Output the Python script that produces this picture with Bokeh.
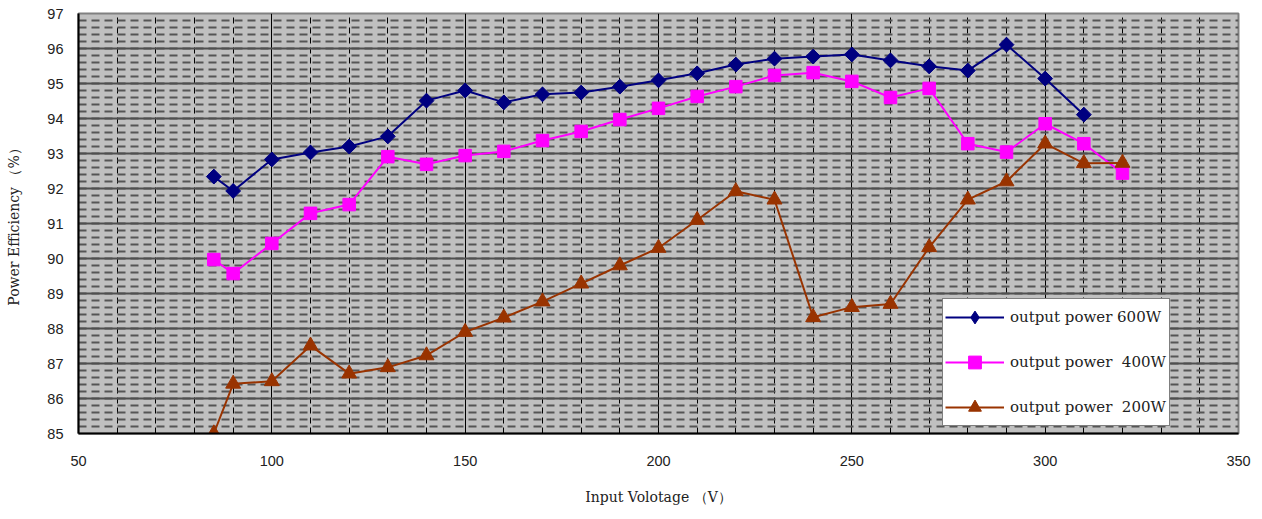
from bokeh.plotting import figure
from bokeh.models import SingleIntervalTicker, Legend, LegendItem, Range1d
from bokeh.embed import file_html
from bokeh.resources import INLINE
import math

# ---- data ----
voltage_600 = [85, 90, 100, 110, 120, 130, 140, 150, 160, 170, 180, 190, 200,
               210, 220, 230, 240, 250, 260, 270, 280, 290, 300, 310]
eff_600 = [92.34, 91.93, 92.83, 93.03, 93.20, 93.49, 94.51, 94.80, 94.46, 94.69,
           94.74, 94.91, 95.09, 95.29, 95.54, 95.71, 95.77, 95.83, 95.66, 95.49,
           95.37, 96.11, 95.14, 94.11]

voltage_400 = [85, 90, 100, 110, 120, 130, 140, 150, 160, 170, 180, 190, 200,
               210, 220, 230, 240, 250, 260, 270, 280, 290, 300, 310, 320]
eff_400 = [89.97, 89.57, 90.43, 91.29, 91.54, 92.91, 92.69, 92.94, 93.06, 93.37,
           93.63, 93.97, 94.29, 94.63, 94.91, 95.23, 95.31, 95.06, 94.60, 94.86,
           93.28, 93.04, 93.85, 93.28, 92.44]

voltage_200 = [85, 90, 100, 110, 120, 130, 140, 150, 160, 170, 180, 190, 200,
               210, 220, 230, 240, 250, 260, 270, 280, 290, 300, 310, 320]
eff_200 = [85.00, 86.42, 86.49, 87.51, 86.71, 86.89, 87.23, 87.90, 88.31, 88.77,
           89.28, 89.80, 90.30, 91.10, 91.92, 91.68, 88.32, 88.61, 88.70, 90.32,
           91.68, 92.20, 93.28, 92.72, 92.73]

labels = ["output power 600W", "output power  400W", "output power  200W"]
colors = ["#000080", "#FF00FF", "#993300"]

x_label = "Input Volotage （V）"
y_label = "Power Efficiency （%）"

p = figure(width=1254, height=511, output_backend="svg", toolbar_location=None,
           x_range=Range1d(50, 350), y_range=Range1d(85, 97),
           min_border_left=78, min_border_right=16, min_border_top=13,
           min_border_bottom=78)

p.background_fill_color = "#C0C0C0"
p.border_fill_color = "white"
p.outline_line_color = "#808080"
p.outline_line_width = 2

# axes
p.xaxis.ticker = SingleIntervalTicker(interval=50, num_minor_ticks=5)
p.yaxis.ticker = SingleIntervalTicker(interval=1, num_minor_ticks=5)
for ax in (p.xaxis[0], p.yaxis[0]):
    ax.major_tick_out = 0
    ax.major_tick_in = 0
    ax.minor_tick_out = 0
    ax.minor_tick_in = 0
    ax.axis_line_color = "black"
    ax.axis_line_width = 2
    ax.major_label_text_font = "Liberation Sans"
    ax.major_label_text_font_size = "14.5px"
    ax.major_label_text_color = "#222222"
    ax.axis_label_text_font = "DejaVu Serif"
    ax.axis_label_text_font_size = "14px"
    ax.axis_label_text_font_style = "normal"
    ax.axis_label_text_color = "#222222"

p.xaxis.axis_label = x_label
p.yaxis.axis_label = y_label
p.xaxis.major_label_standoff = 22
p.xaxis.axis_label_standoff = 20
p.yaxis.major_label_standoff = 15
p.yaxis.axis_label_standoff = 22

# grid
p.xgrid.grid_line_color = "black"
p.xgrid.grid_line_width = 1
p.xgrid.minor_grid_line_color = "black"
p.xgrid.minor_grid_line_width = 1
p.xgrid.minor_grid_line_dash = "6 4"

p.ygrid.grid_line_color = "#505050"
p.ygrid.grid_line_width = 2
p.ygrid.minor_grid_line_color = "#555555"
p.ygrid.minor_grid_line_width = 2
p.ygrid.minor_grid_line_dash = "8 5"

# series
l1 = p.line(voltage_600, eff_600, line_color=colors[0], line_width=2)
# diamond glyph (used for the legend) sits fully hidden under the rotated squares
d1 = p.scatter(voltage_600, eff_600, marker="diamond", size=14,
               fill_color=colors[0], line_color=colors[0])
s1 = p.scatter(voltage_600, eff_600, marker="square", angle=math.pi / 4, size=10.5,
               fill_color=colors[0], line_color=colors[0])
l2 = p.line(voltage_400, eff_400, line_color=colors[1], line_width=2)
s2 = p.scatter(voltage_400, eff_400, marker="square", size=12.5,
               fill_color=colors[1], line_color=colors[1])
l3 = p.line(voltage_200, eff_200, line_color=colors[2], line_width=2)
s3 = p.scatter(voltage_200, eff_200, marker="triangle", size=15,
               fill_color=colors[2], line_color=colors[2])

legend = Legend(items=[LegendItem(label=labels[0], renderers=[l1, d1]),
                       LegendItem(label=labels[1], renderers=[l2, s2]),
                       LegendItem(label=labels[2], renderers=[l3, s3])],
                location=(864, 7))
legend.margin = 0
legend.padding = 2
legend.spacing = 13
legend.glyph_width = 59
legend.glyph_height = 32
legend.label_height = 32
legend.label_width = 157
legend.label_standoff = 6
legend.label_text_font = "DejaVu Serif"
legend.label_text_font_size = "15px"
legend.label_text_color = "#222222"
legend.border_line_color = "black"
legend.border_line_width = 1
legend.background_fill_color = "white"
legend.background_fill_alpha = 1.0
p.add_layout(legend)

open("out.html", "w").write(file_html(p, INLINE))
